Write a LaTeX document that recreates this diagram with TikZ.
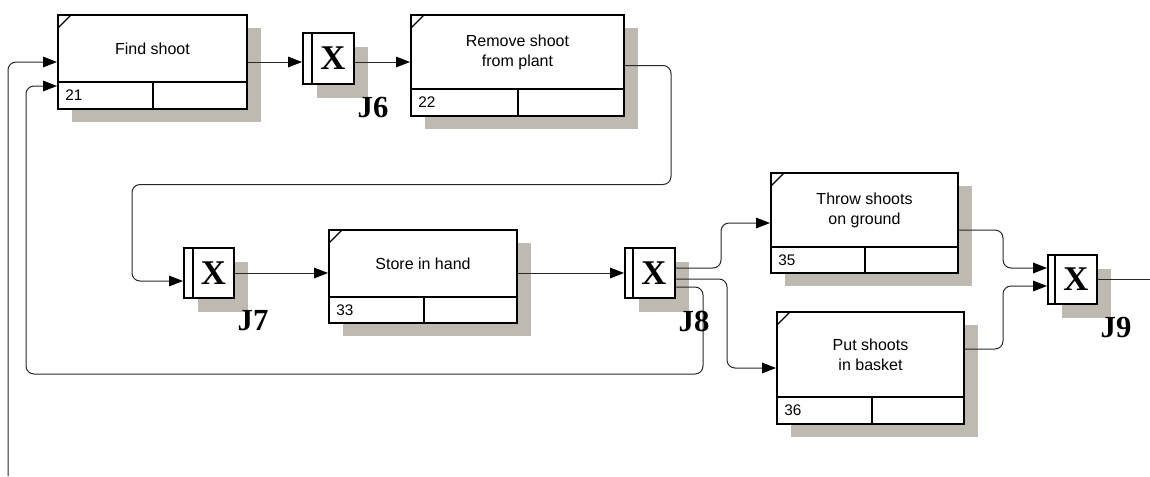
\documentclass[tikz,border=0pt]{standalone}
\usepackage{fontspec}
\setmainfont{Liberation Sans}
\newfontfamily\jfont{Liberation Serif}
\usetikzlibrary{arrows.meta,calc,fit}

\definecolor{shadowc}{RGB}{190,186,178}
\definecolor{linec}{RGB}{40,40,40}

\tikzset{
  boxframe/.style={draw=black, line width=1.5pt, fill=white, inner sep=0pt, rectangle},
  boxline/.style={draw=black, line width=1.5pt},
  shadowbox/.style={fill=shadowc},
  acttext/.style={font=\fontsize{12}{15}\selectfont, align=center, inner sep=0pt},
  numtext/.style={font=\fontsize{11.5}{13}\selectfont, inner sep=0pt, anchor=west},
  jx/.style={font=\jfont\bfseries\fontsize{26}{26}\selectfont, inner sep=0pt},
  jlabel/.style={font=\jfont\bfseries\fontsize{23}{23}\selectfont, inner sep=0pt},
  conn/.style={draw=linec, line width=0.75pt, rounded corners=6pt,
    -{Triangle[length=10.5pt,width=8pt,color=black]}},
  plainconn/.style={draw=linec, line width=0.75pt, rounded corners=6pt},
}

% activity box: name, x1, y1, x2, y2, divider y, divider x, text, number
\newcommand{\actbox}[9]{%
  \fill[shadowbox] (#2+14,#3+13) rectangle (#4+14,#5+13);
  \node[boxframe, fit={(#2,#3) (#4,#5)}] (#1) {};
  \draw[boxline] (#2,#6) -- (#4,#6) (#7,#6) -- (#7,#5);
  \draw[boxline, line width=1pt] (#2,#3+13) -- (#2+13,#3);
  \node[acttext] (#1-text) at ($(#2,#3)!0.5!(#4,#6)$) {#8};
  \node[numtext] (#1-num) at (#2+7,{(#6+#5)/2}) {#9};
}

% junction box: name, x1, y1, x2, y2, inner bar x
\newcommand{\junction}[6]{%
  \fill[shadowbox] (#2+14,#3+14) rectangle (#4+14,#5+14);
  \node[boxframe, fit={(#2,#3) (#4,#5)}] (#1) {};
  \draw[boxline] (#6,#3) -- (#6,#5);
  \node[jx] (#1-x) at ({(#6+#4)/2},{(#3+#5)/2}) {X};
}

\begin{document}
\begin{tikzpicture}[x=0.75pt,y=-0.75pt]
\useasboundingbox (0,0) rectangle (1150,476);

% units of work
\actbox{A21}{58}{15}{247}{109}{82}{153}{Find shoot}{21}
\actbox{A22}{411}{15}{624}{116}{89}{518}{Remove shoot\\from plant}{22}
\actbox{A33}{329}{230}{517}{323}{297}{424}{Store in hand}{33}
\actbox{A35}{771}{173}{958}{273}{247}{865}{Throw shoots\\on ground}{35}
\actbox{A36}{777}{312}{964}{424}{397}{872}{Put shoots\\in basket}{36}

% XOR junctions
\junction{J6}{303}{33}{354}{84}{312}
\junction{J7}{184}{248}{234}{298}{193}
\junction{J8}{625}{248}{675}{298}{633}
\junction{J9}{1048}{255}{1097}{304}{1055}

% links
\coordinate (in21) at (8,476);
\coordinate (out9) at (1150,281);

\draw[conn] (in21) |- (A21.west);
\draw[conn] (A21.east) -- (A21.east -| J6.west);
\draw[conn] (J6.east |- A21.east) -- (A22.west |- A21.east);
\draw[conn] (A22.east) -- ++(46,0) -- ++(0,119) -| ($(J7.west)+(-51,8)$) -- ($(J7.west)+(0,8)$);
\draw[conn] (J7.east) -- (J7.east -| A33.west);
\draw[conn] (A33.east |- J8.west) -- (J8.west);
\draw[conn] ($(J8.east)+(0,-5)$) -- ++(45,0) |- (A35.west);
\draw[conn] ($(J8.east)+(0,6)$) -- ++(51,0) |- (A36.west);
\draw[conn] ($(J8.east)+(0,14)$) -- ++(27,0) -- ++(0,87) -| ($(A21.west)+(-31,24)$) -- ($(A21.west)+(0,24)$);
\draw[conn] ($(A35.east)+(0,7)$) -- ++(44,0) |- ($(J9.west)+(0,-11.5)$);
\draw[conn] ($(A36.east)+(0,-19)$) -- ++(38,0) |- ($(J9.west)+(0,6.5)$);
\draw[plainconn] (J9.east) -- (J9.east -| out9);

% junction labels
\foreach \j in {J6,J7,J8,J9}
  \node[jlabel] (\j-label) at ($(\j.south east)+(18,22)$) {\j};
\end{tikzpicture}
\end{document}
